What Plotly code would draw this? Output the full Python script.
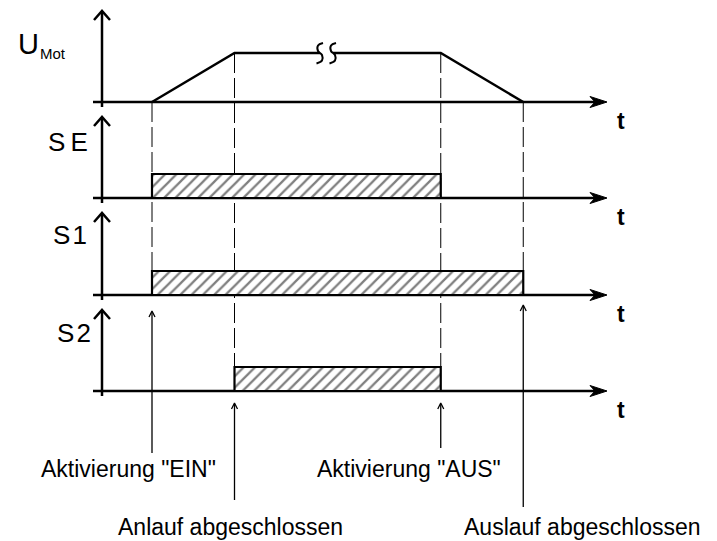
import plotly.graph_objects as go

# ---------------- data ----------------
event_times = [1.0, 2.0, 4.5, 5.5]          # EIN, Anlauf fertig, AUS, Auslauf fertig
event_labels = ['Aktivierung "EIN"', 'Anlauf abgeschlossen',
                'Aktivierung "AUS"', 'Auslauf abgeschlossen']
signal_labels = ['U', 'SE', 'S1', 'S2']
u_sub_label = 'Mot'
time_axis_label = 't'

umot_times = [1.0, 2.0, 4.5, 5.5]
umot_levels = [0, 1, 1, 0]

se_window = [1.0, 4.5]
s1_window = [1.0, 5.5]
s2_window = [2.0, 4.5]

# ---------------- layout constants (pixels) ----------------
W, H = 717, 541
PX_PER_T = 82.5
X_T0 = 69.5
FONT = "Liberation Sans, Arial, sans-serif"


def px2t(px):
    return (px - X_T0) / PX_PER_T


def dt(px):
    return px / PX_PER_T


baselines = [102, 198, 295, 391]
amps = [49, 24, 24, 24]
tips = [11, 117, 213, 310]
AXIS_X = px2t(102)
AXIS_START = px2t(93)
AXIS_END = px2t(607)

fig = go.Figure()


def add_line(xs, ys, width=2.5, dash=None, shape="linear"):
    fig.add_trace(go.Scatter(x=xs, y=ys, mode="lines",
                             line=dict(color="black", width=width, dash=dash, shape=shape),
                             hoverinfo="skip", showlegend=False))


def add_poly(xs, ys):
    fig.add_trace(go.Scatter(x=xs, y=ys, mode="lines", fill="toself",
                             fillcolor="black", line=dict(color="black", width=1),
                             hoverinfo="skip", showlegend=False))


def umot_level(t):
    for tt, lv in zip(umot_times, umot_levels):
        if abs(tt - t) < 1e-9:
            return lv
    return 0


windows = [None, se_window, s1_window, s2_window]

# ---- dashed guide lines ----
for t in event_times:
    top = baselines[0] - umot_level(t) * amps[0]
    bottom = baselines[0]
    for row in (1, 2, 3):
        if any(abs(t - e) < 1e-9 for e in windows[row]):
            bottom = baselines[row] - amps[row]
    add_line([t, t], [top, bottom], width=1, dash="20px,5px")

# ---- axes ----
for b, tip in zip(baselines, tips):
    add_line([AXIS_START, AXIS_END - dt(10)], [b, b])
    add_poly([AXIS_END, AXIS_END - dt(17), AXIS_END - dt(12), AXIS_END - dt(17), AXIS_END],
             [b, b - 5.5, b, b + 5.5, b])
    add_line([AXIS_X, AXIS_X], [tip + 1, b + 5])
    add_line([AXIS_X - dt(8), AXIS_X, AXIS_X + dt(8)], [tip + 9, tip, tip + 9])

# ---- U_Mot curve with break symbol ----
b0, a0 = baselines[0], amps[0]
uy = [b0 - lv * a0 for lv in umot_levels]
break_t = px2t(326.5)
half_gap = dt(6.5)
add_line([umot_times[0], umot_times[1], break_t - half_gap],
         [uy[0], uy[1], uy[1]])
add_line([break_t + half_gap, umot_times[2], umot_times[3]],
         [uy[2], uy[2], uy[3]])
cy = uy[1]
for cx in (break_t - half_gap, break_t + half_gap):
    sx = [3.0, -2.0, -2.0, 2.0, 2.0, -3.5]
    sy = [-10, -7.5, -2, 2, 7.5, 10.5]
    add_line([cx + dt(v) for v in sx], [cy + v for v in sy], width=2, shape="spline")

# ---- hatched boxes ----
for row in (1, 2, 3):
    on, off = windows[row]
    b, a = baselines[row], amps[row]
    fig.add_trace(go.Scatter(
        x=[on, on, off, off, on], y=[b, b - a, b - a, b, b],
        mode="lines", fill="toself",
        fillpattern=dict(shape="/", fgcolor="black", bgcolor="white", size=8, solidity=0.28),
        line=dict(color="black", width=2.2),
        hoverinfo="skip", showlegend=False))

# ---- event arrows ----
arrow_tips = [311, 403, 403, 305]
arrow_tails = [453, 500, 448, 507]
for t, tip, tail in zip(event_times, arrow_tips, arrow_tails):
    add_line([t, t], [tail, tip + 1], width=1.3)
    add_line([t - dt(3), t, t + dt(3)], [tip + 6, tip, tip + 6], width=1.3)

# ---- texts ----
ann = []
text_y = [469, 526.5, 469, 526.5]
text_shift = [-23.5, -4.5, -32, 59]
for t, lab, y, sh in zip(event_times, event_labels, text_y, text_shift):
    ann.append(dict(x=t, y=y, xref="x", yref="y", text=lab, showarrow=False,
                    xanchor="center", yanchor="middle", xshift=sh,
                    font=dict(family=FONT, size=23, color="black")))

for b in baselines:
    ann.append(dict(x=px2t(620.5), y=b + 19, xref="x", yref="y",
                    text="<b>" + time_axis_label + "</b>", showarrow=False,
                    xanchor="center", yanchor="middle",
                    font=dict(family=FONT, size=23, color="black")))

label_y = [43.5, 141.5, 235, 332.5]
label_right = [41, 90, 89, 93]
label_size = [29, 26, 26, 26]
label_sep = ["", "\u2009", "\u200a", "\u200a"]
for lab, y, r, s, sep in zip(signal_labels, label_y, label_right, label_size, label_sep):
    txt = sep.join(lab)
    ann.append(dict(x=px2t(r), y=y, xref="x", yref="y", text=txt, showarrow=False,
                    xanchor="right", yanchor="middle",
                    font=dict(family=FONT, size=s, color="black")))
ann.append(dict(x=px2t(38), y=53.5, xref="x", yref="y", text=u_sub_label, showarrow=False,
                xanchor="left", yanchor="middle",
                font=dict(family=FONT, size=15, color="black")))

fig.update_layout(
    width=W, height=H,
    margin=dict(l=0, r=0, t=0, b=0),
    paper_bgcolor="white", plot_bgcolor="white",
    xaxis=dict(visible=False, range=[px2t(0), px2t(W)], fixedrange=True),
    yaxis=dict(visible=False, range=[H, 0], fixedrange=True),
    showlegend=False,
    annotations=ann,
)

fig.write_html("out.html", config={"displayModeBar": False},
               post_script="document.body.style.margin='0';document.body.style.overflow='hidden';")
